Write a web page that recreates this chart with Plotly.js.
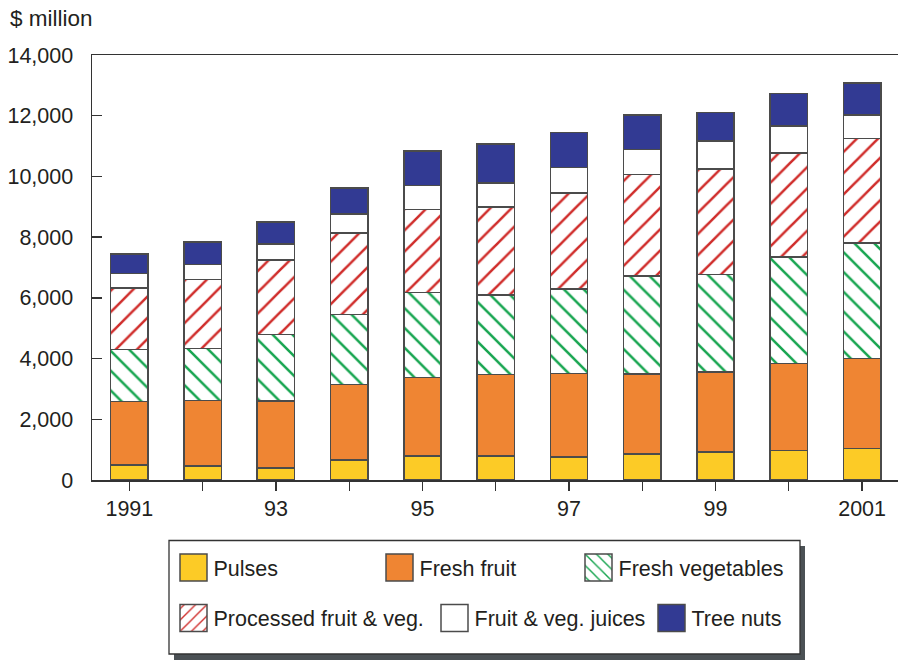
<!DOCTYPE html>
<html>
<head>
<meta charset="utf-8">
<script src="https://cdn.plot.ly/plotly-3.0.1.min.js"></script>
<style>
  html, body { margin: 0; padding: 0; background: #fff; }
  #chart { width: 898px; height: 660px; }
</style>
</head>
<body>
<div id="chart"></div>
<script>
// ---- data ----
const years = [1991, 1992, 1993, 1994, 1995, 1996, 1997, 1998, 1999, 2000, 2001];
const yearLabels = ['1991', '', '93', '', '95', '', '97', '', '99', '', '2001'];
const pulses     = [490, 460, 400, 660, 790, 790, 750, 860, 930, 970, 1040];
const freshFruit = [2090, 2160, 2200, 2490, 2590, 2680, 2760, 2630, 2630, 2860, 2970];
const freshVeg   = [1725, 1715, 2200, 2295, 2790, 2625, 2790, 3230, 3205, 3515, 3800];
const processed  = [2020, 2270, 2450, 2690, 2745, 2900, 3160, 3340, 3480, 3435, 3435];
const juices     = [485, 495, 525, 625, 790, 790, 835, 835, 925, 880, 780];
const treeNuts   = [640, 735, 725, 865, 1130, 1285, 1150, 1130, 935, 1065, 1045];
const yTicks = [0, 2000, 4000, 6000, 8000, 10000, 12000, 14000];

const FONT = 'Liberation Sans, Arial, Helvetica, sans-serif';
const outline = { color: 'rgb(75,75,75)', width: 1.5 };

function bar(name, y, marker, legend, lw) {
  return {
    type: 'bar', name: name, x: years, y: y,
    marker: Object.assign({ line: outline }, marker),
    legend: legend, legendwidth: lw, hoverinfo: 'skip'
  };
}

const traces = [
  bar('Pulses', pulses, { color: '#FCCB26' }, 'legend', 161),
  bar('Fresh fruit', freshFruit, { color: '#EF8533' }, 'legend', 154),
  bar('Fresh vegetables', freshVeg, { color: '#ffffff',
      pattern: { shape: '\\', fgcolor: '#17A550', bgcolor: '#ffffff', size: 14, solidity: 0.18 } }, 'legend', undefined),
  bar('Processed fruit & veg.', processed, { color: '#ffffff',
      pattern: { shape: '/', fgcolor: '#D02D2B', bgcolor: '#ffffff', size: 15, solidity: 0.17 } }, 'legend2', 216),
  bar('Fruit & veg. juices', juices, { color: '#ffffff' }, 'legend2', 172),
  bar('Tree nuts', treeNuts, { color: '#323A93' }, 'legend2', undefined)
];

const L = 92, R = 898, T = 55, B = 480;
const px = v => (v - L) / (R - L);
const py = v => (B - v) / (B - T);

const legendCommon = {
  orientation: 'h', xanchor: 'left', yanchor: 'middle',
  bgcolor: 'rgba(0,0,0,0)', borderwidth: 0,
  font: { family: FONT, size: 21.5, color: '#231f20' },
  traceorder: 'normal'
};

const layout = {
  width: 898, height: 660,
  margin: { l: L, r: 898 - R, t: T, b: 660 - B, pad: 0 },
  paper_bgcolor: '#ffffff', plot_bgcolor: '#ffffff',
  barmode: 'stack', bargap: 0.49,
  font: { family: FONT, size: 21, color: '#231f20' },
  showlegend: true,
  xaxis: {
    type: 'linear', range: [1990.49, 2001.49],
    tickvals: years, ticktext: yearLabels,
    ticks: 'outside', ticklen: 9, tickwidth: 1.3, tickcolor: '#333',
    showline: true, linecolor: '#333', linewidth: 1.5, mirror: true,
    showgrid: false, zeroline: false, fixedrange: true,
    tickfont: { family: FONT, size: 21.5, color: '#231f20' }
  },
  yaxis: {
    range: [0, 14000], tickvals: yTicks, tickformat: ',',
    ticks: 'inside', ticklen: 10, tickwidth: 1.3, tickcolor: '#333',
    ticklabelstandoff: 13,
    showline: true, linecolor: '#333', linewidth: 1.5,
    showgrid: false, zeroline: false, fixedrange: true,
    tickfont: { family: FONT, size: 21.5, color: '#231f20' }
  },
  legend: Object.assign({}, legendCommon, { x: px(173.5), y: py(567.5) }),
  legend2: Object.assign({}, legendCommon, { x: px(173.5), y: py(618) }),
  shapes: [
    { type: 'rect', xref: 'paper', yref: 'paper', layer: 'above',
      x0: px(174), x1: px(805), y0: py(546), y1: py(664),
      fillcolor: '#4b5155', line: { width: 0 } },
    { type: 'rect', xref: 'paper', yref: 'paper', layer: 'above',
      x0: px(169), x1: px(800), y0: py(540.5), y1: py(654),
      fillcolor: '#ffffff', line: { color: '#333', width: 1.3 } }
  ],
  annotations: [
    { text: '$ million', xref: 'paper', yref: 'paper', x: px(8), y: py(19),
      xanchor: 'left', yanchor: 'middle', showarrow: false,
      font: { family: FONT, size: 22.5, color: '#231f20' } }
  ]
};

const gd = document.getElementById('chart');
function bigSwatches() {
  gd.querySelectorAll('.infolayer .legendpoints path').forEach(p => {
    p.setAttribute('d', 'M13.5,13.5H-13.5V-13.5H13.5Z');
  });
}
Plotly.newPlot(gd, traces, layout, { staticPlot: true, displayModeBar: false }).then(() => {
  bigSwatches();
  gd.on('plotly_afterplot', bigSwatches);
});
</script>
</body>
</html>
